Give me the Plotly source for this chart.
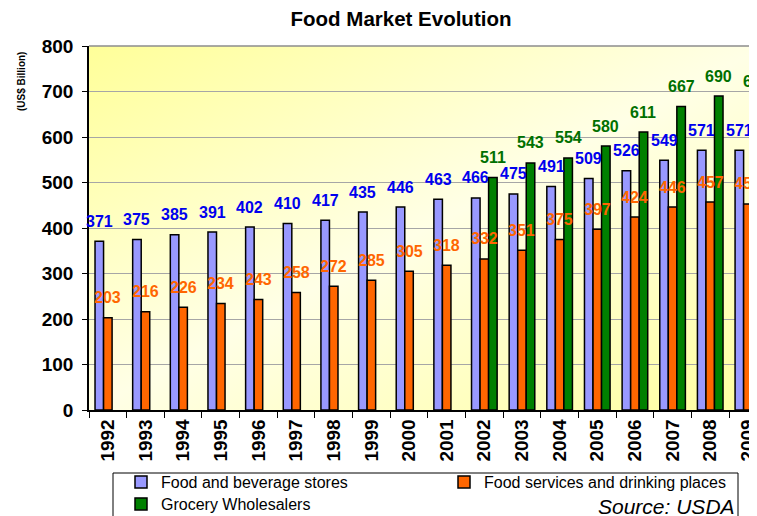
import base64
import plotly.graph_objects as go

years = ["1992", "1993", "1994", "1995", "1996", "1997", "1998", "1999", "2000",
         "2001", "2002", "2003", "2004", "2005", "2006", "2007", "2008", "2009"]
food_beverage = [371, 375, 385, 391, 402, 410, 417, 435, 446, 463,
                 466, 475, 491, 509, 526, 549, 571, 571]
food_services = [203, 216, 226, 234, 243, 258, 272, 285, 305, 318,
                 332, 351, 375, 397, 424, 446, 457, 453]
grocery = [None, None, None, None, None, None, None, None, None, None,
           511, 543, 554, 580, 611, 667, 690, 677]

series = [
    ("Food and beverage stores", food_beverage, "#9999FF", "#0000EE"),
    ("Food services and drinking places", food_services, "#FF6600", "#FF6600"),
    ("Grocery Wholesalers", grocery, "#008000", "#007000"),
]

# page has an 8px body margin: figure coords = screen coords - 8
OFF = 8
W, H = 757, 516
ML, MR, MT = 89 - OFF, 0, 46 - OFF
PLOT_BOTTOM = 410 - OFF
MB = H - PLOT_BOTTOM
PW = W - ML - MR
PH = PLOT_BOTTOM - MT
cat_px = 37.65
bar_px = cat_px * (1 - 0.32) / 3
x_max = -0.5 + PW / cat_px

FONT = "Liberation Sans, Arial, sans-serif"


def paper_x(sx):
    return (sx - OFF - ML) / PW


def paper_y(sy):
    return (PLOT_BOTTOM - (sy - OFF)) / PH


def cont_x(sx):
    return (sx - OFF) / W


def cont_y(sy):
    return 1 - (sy - OFF) / H


legend_pos = [("legend2", 121, 482), ("legend3", 444, 482), ("legend4", 121, 504)]

fig = go.Figure()
for (name, vals, fill, _), (lg, _, _) in zip(series, legend_pos):
    fig.add_trace(go.Bar(
        x=years, y=vals, name=name, legend=lg, showlegend=True,
        marker=dict(color=fill, line=dict(color="black", width=1.5)),
    ))

annotations = []
for i, (name, vals, fill, tcol) in enumerate(series):
    for k, v in enumerate(vals):
        if v is None:
            continue
        annotations.append(dict(
            x=k, y=v, xref="x", yref="y", text=str(v), showarrow=False,
            xshift=(i - 1) * bar_px, yshift=20, yanchor="middle",
            font=dict(family=FONT, size=16, color=tcol, weight="bold"),
        ))

annotations.append(dict(
    text="Source: USDA", xref="paper", yref="paper", showarrow=False,
    x=paper_x(737), y=paper_y(506), xanchor="right", yanchor="middle",
    font=dict(family=FONT, size=21, color="black", style="italic"),
))
annotations.append(dict(
    text="(US$ Billion)", xref="paper", yref="paper", showarrow=False,
    x=paper_x(21), y=paper_y(82), xanchor="center", yanchor="middle",
    textangle=-90,
    font=dict(family=FONT, size=10, color="black", weight="bold"),
))

svg = ('<svg xmlns="http://www.w3.org/2000/svg" width="100" height="100" '
       'viewBox="0 0 100 100" preserveAspectRatio="none">'
       '<defs><linearGradient id="g" x1="0" y1="0" x2="1" y2="1">'
       '<stop offset="0" stop-color="#FFFF99"/>'
       '<stop offset="0.5" stop-color="#FFFFE6"/>'
       '<stop offset="1" stop-color="#FFFF9E"/>'
       '</linearGradient></defs>'
       '<rect width="100" height="100" fill="url(#g)"/></svg>')
bg_uri = "data:image/svg+xml;base64," + base64.b64encode(svg.encode()).decode()

legends = {}
for lg, sx, sy in legend_pos:
    legends[lg] = dict(
        orientation="h", xref="container", yref="container",
        x=cont_x(sx), y=cont_y(sy), xanchor="left", yanchor="middle",
        bgcolor="rgba(0,0,0,0)", borderwidth=0,
        font=dict(family=FONT, size=16, color="black"),
        itemwidth=30,
    )

fig.update_layout(
    width=W, height=H,
    margin=dict(l=ML, r=MR, t=MT, b=MB, pad=0),
    paper_bgcolor="white",
    plot_bgcolor="rgba(0,0,0,0)",
    showlegend=True,
    barmode="group", bargap=0.32, bargroupgap=0,
    title=dict(text="<b>Food Market Evolution</b>", x=cont_x(401), xanchor="center",
               y=cont_y(19), yanchor="middle",
               font=dict(family=FONT, size=20.5, color="black")),
    images=[dict(source=bg_uri, xref="paper", yref="paper", x=0, y=1,
                 sizex=1, sizey=1, sizing="stretch", layer="below",
                 xanchor="left", yanchor="top")],
    xaxis=dict(
        type="category", range=[-0.5, x_max],
        tickangle=-90, ticks="outside", ticklen=6, tickcolor="black",
        tickson="boundaries",
        showline=True, linecolor="black", linewidth=1.5,
        showgrid=False,
        tickfont=dict(family=FONT, size=19, color="black", weight="bold"),
    ),
    yaxis=dict(
        range=[0, 800], dtick=100, tick0=0,
        ticks="outside", ticklen=5, tickcolor="black",
        ticklabelstandoff=5,
        showline=True, linecolor="black", linewidth=1.5,
        showgrid=True, gridcolor="#A6A6A6", gridwidth=1,
        zeroline=False,
        tickfont=dict(family=FONT, size=19, color="black", weight="bold"),
    ),
    shapes=[
        dict(type="line", xref="paper", yref="paper", x0=0, x1=1, y0=1, y1=1,
             line=dict(color="#8C8C8C", width=1.5)),
        dict(type="rect", xref="paper", yref="paper",
             x0=paper_x(113), x1=paper_x(738), y0=paper_y(473), y1=paper_y(540),
             line=dict(color="black", width=1), fillcolor="rgba(0,0,0,0)"),
    ],
    annotations=annotations,
    **legends,
)

fig.write_html("out.html")
